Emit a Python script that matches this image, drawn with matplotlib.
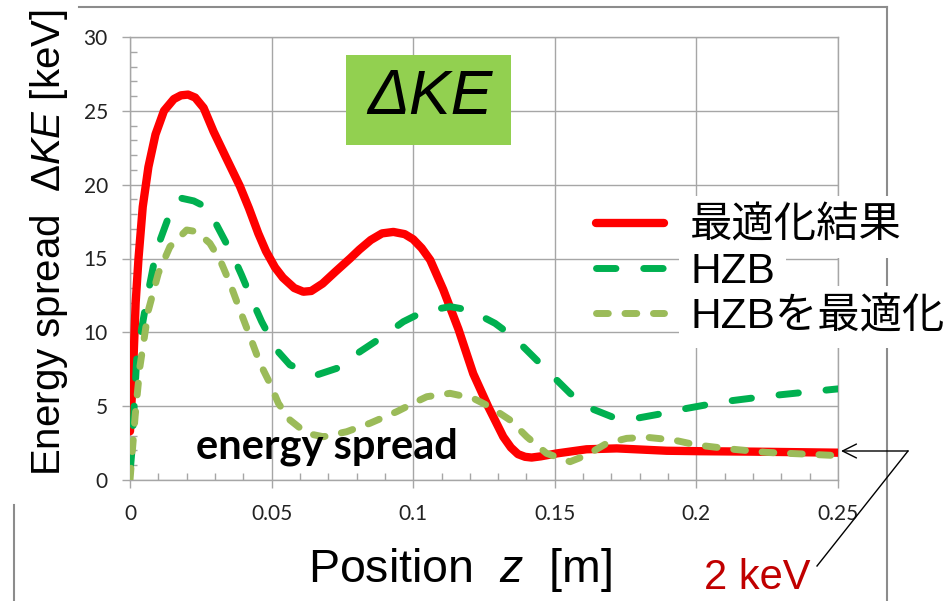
import matplotlib
matplotlib.use("Agg")
import matplotlib.pyplot as plt
from matplotlib.lines import Line2D
from matplotlib.patches import Rectangle
from matplotlib.ticker import MultipleLocator, FixedLocator

# --- data (z in m, energy spread in keV) ---
z_opt = [0, 0.001, 0.002, 0.003, 0.0045, 0.0065, 0.009, 0.012, 0.0155, 0.018,
         0.0205, 0.023, 0.026, 0.0295, 0.034, 0.0388, 0.042, 0.0453, 0.048, 0.0512,
         0.054, 0.058, 0.0612, 0.064, 0.068, 0.0725, 0.0777, 0.081, 0.085, 0.089,
         0.093, 0.097, 0.1, 0.103, 0.106, 0.1106, 0.116, 0.1212, 0.1265, 0.1318,
         0.1345, 0.137, 0.1395, 0.1418, 0.145, 0.1507, 0.1612, 0.1719, 0.1895, 0.2013,
         0.22, 0.25]
de_opt = [3.3, 7.0, 12.0, 15.0, 18.5, 21.2, 23.4, 25.0, 25.8, 26.05,
          26.1, 25.9, 25.2, 23.6, 21.8, 19.9, 18.4, 16.7, 15.5, 14.4,
          13.7, 13.0, 12.75, 12.8, 13.3, 14.1, 15.0, 15.6, 16.25, 16.7,
          16.8, 16.65, 16.3, 15.7, 14.9, 12.9, 10.2, 7.2, 4.96, 2.93,
          2.2, 1.75, 1.57, 1.52, 1.6, 1.8, 2.08, 2.14, 1.98, 1.95,
          1.92, 1.85]

z_hzb = [0, 0.0006, 0.0024, 0.0059, 0.0094, 0.0141, 0.0162, 0.0182, 0.0225, 0.0277,
         0.0306, 0.0365, 0.0394, 0.0436, 0.0465, 0.0518, 0.0565, 0.0659, 0.073, 0.0812,
         0.0883, 0.0965, 0.1036, 0.113, 0.12, 0.1289, 0.1353, 0.1424, 0.1483, 0.1554,
         0.1613, 0.1707, 0.1789, 0.1883, 0.1966, 0.2095, 0.226, 0.2484, 0.25]
de_hzb = [0.5, 1.8, 8.35, 12.2, 15.6, 18.06, 18.75, 19.08, 18.9, 18.4,
          17.27, 15.12, 13.88, 11.96, 10.72, 8.8, 7.79, 7.11, 7.56, 8.69,
          9.59, 10.72, 11.4, 11.74, 11.5, 10.61, 9.7, 8.35, 7.22, 5.87,
          4.96, 4.24, 4.18, 4.51, 4.85, 5.3, 5.7, 6.14, 6.17]

z_hzbopt = [0, 0.0018, 0.0035, 0.0065, 0.01, 0.0141, 0.02, 0.0235, 0.0282, 0.0318,
            0.0353, 0.0388, 0.0424, 0.0459, 0.0494, 0.0524, 0.0565, 0.0624, 0.0683, 0.0765,
            0.0847, 0.0942, 0.1024, 0.1048, 0.113, 0.1212, 0.1271, 0.1342, 0.1401, 0.1471,
            0.1554, 0.1613, 0.1683, 0.1754, 0.1825, 0.1919, 0.2001, 0.213, 0.2248, 0.2401,
            0.25]
de_hzbopt = [0, 4.29, 7.67, 11.5, 14.0, 15.8, 16.93, 16.82, 16.03, 14.9,
             13.32, 11.51, 9.7, 7.9, 6.55, 5.19, 4.06, 3.16, 2.93, 3.27,
             3.84, 4.63, 5.42, 5.64, 5.87, 5.53, 4.96, 4.06, 2.93, 1.8,
             1.24, 1.69, 2.48, 2.82, 2.89, 2.71, 2.37, 2.08, 1.87, 1.74,
             1.65]

labels = ["最適化結果", "HZB", "HZBを最適化"]
x_ticks = [0, 0.05, 0.1, 0.15, 0.2, 0.25]
x_ticklabels = ["0", "0.05", "0.1", "0.15", "0.2", "0.25"]
y_ticks = [0, 5, 10, 15, 20, 25, 30]

plt.rcParams['lines.scale_dashes'] = False
plt.rcParams['mathtext.fontset'] = 'custom'
plt.rcParams['mathtext.rm'] = 'Liberation Sans'
plt.rcParams['mathtext.it'] = 'Liberation Sans:italic'

W, H = 947, 601
fig = plt.figure(figsize=(W / 100, H / 100), dpi=100)
ax = fig.add_axes([130 / W, 1 - 480 / H, 708 / W, 443 / H])

def fx(px):
    return px / W

def fy(py):
    return 1 - py / H

grid_c = '#a6a6a6'

ax.plot(z_opt, de_opt, color='#ff0000', lw=6, solid_capstyle='round',
        solid_joinstyle='round', label=labels[0], zorder=3)
ax.plot(z_hzb, de_hzb, color='#00b050', lw=5, dashes=(14, 20),
        dash_capstyle='round', label=labels[1], zorder=4)
ax.plot(z_hzbopt, de_hzbopt, color='#9bbb59', lw=5, dashes=(8.5, 12),
        dash_capstyle='round', label=labels[2], zorder=5)

ax.set_xlim(0, 0.25)
ax.set_ylim(0, 30)
ax.xaxis.set_major_locator(FixedLocator(x_ticks))
ax.set_xticklabels(x_ticklabels)
ax.yaxis.set_major_locator(FixedLocator(y_ticks))
ax.xaxis.set_minor_locator(MultipleLocator(0.01))
ax.yaxis.set_minor_locator(MultipleLocator(1))
ax.grid(True, which='major', color=grid_c, lw=1)
ax.set_axisbelow(True)
for s in ax.spines.values():
    s.set_color(grid_c)
    s.set_linewidth(1)
ax.tick_params(which='major', direction='out', length=6, width=1, color=grid_c,
               labelsize=15, labelcolor='#222222')
ax.tick_params(axis='y', which='major', pad=10)
ax.tick_params(axis='x', which='major', pad=11)
ax.tick_params(which='minor', direction='in', length=5, width=1, color=grid_c)
for t in ax.get_xticklabels() + ax.get_yticklabels():
    t.set_fontfamily('Lato')

# legend: handles on top of grid, text boxes with white background
leg = ax.legend(loc='upper left', bbox_to_anchor=(fx(596), fy(207)),
                bbox_transform=fig.transFigure, frameon=False,
                prop={'family': ['Liberation Sans', 'Noto Sans CJK JP'], 'size': 30.5},
                handlelength=1.6, handletextpad=0.62, labelspacing=0.12,
                borderpad=0, borderaxespad=0)
for t in leg.get_texts():
    t.set_bbox(dict(facecolor='white', edgecolor='none', pad=8))

# axis labels
fig.text(fx(49), fy(243), "Energy spread  $\\mathit{ΔKE}$ [keV]", rotation=90,
         ha='center', va='center', fontsize=29, family='Liberation Sans')
fig.text(fx(460), fy(570), "Position  $\\mathit{z}$  [m]", ha='center', va='center',
         fontsize=33.5, family='Liberation Sans')

# ΔKE tag
fig.add_artist(Rectangle((fx(346), fy(145)), (511 - 346) / W, 90 / H,
                         transform=fig.transFigure, facecolor='#92d050',
                         edgecolor='none', zorder=6))
fig.text(fx(430), fy(98), "ΔKE", ha='center', va='center', fontsize=45,
         style='italic', family='Liberation Sans', zorder=7)

# energy spread note
fig.text(fx(327), fy(458), "energy spread", ha='center', va='baseline',
         fontsize=30, fontweight='bold', family='Lato', zorder=8)

# 2 keV note with arrow
fig.text(fx(757), fy(589), "2 keV", ha='center', va='baseline', fontsize=30,
         color='#c00000', family='Liberation Sans', zorder=8)
ax.annotate("", xy=(fx(841), fy(451)), xycoords='figure fraction',
            xytext=(fx(908), fy(451)), textcoords='figure fraction',
            arrowprops=dict(arrowstyle='->', color='black', lw=1,
                            mutation_scale=25, shrinkA=0, shrinkB=0),
            annotation_clip=False)
fig.add_artist(Line2D([fx(908), fx(817)], [fy(451), fy(566)], color='black',
                      lw=1, transform=fig.transFigure))

# outer chart frame (partly hidden behind label boxes)
frame_c = '#8c8c8c'
fig.add_artist(Line2D([fx(79), fx(887)], [fy(7), fy(7)], color=frame_c, lw=1.5,
                      transform=fig.transFigure, zorder=-1))
fig.add_artist(Line2D([fx(887), fx(887)], [fy(7), fy(601)], color=frame_c, lw=1.5,
                      transform=fig.transFigure, zorder=-1))
fig.add_artist(Line2D([fx(14), fx(14)], [fy(505), fy(601)], color=frame_c, lw=1.5,
                      transform=fig.transFigure, zorder=-1))

fig.savefig("out.png", dpi=100)
